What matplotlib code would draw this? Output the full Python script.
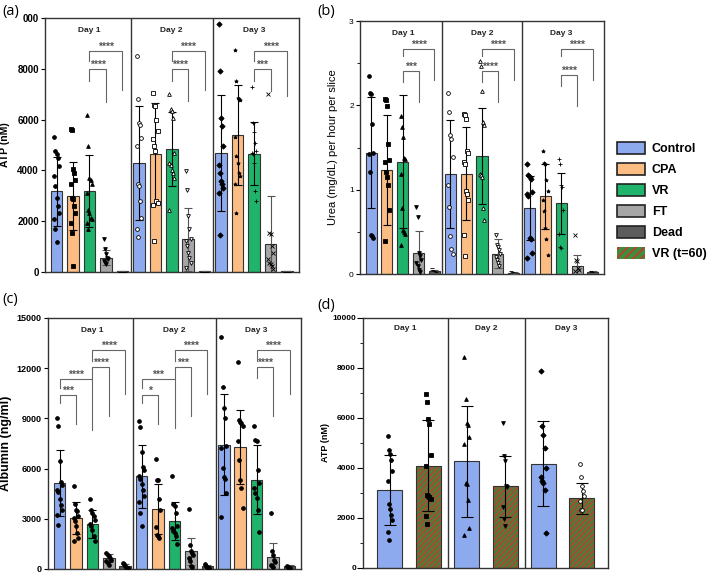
import matplotlib.pyplot as plt
from matplotlib.patches import Patch

plt.rcParams['font.family'] = ['Liberation Sans', 'DejaVu Sans']
plt.rcParams['hatch.linewidth'] = 1.2

days = ["Day 1", "Day 2", "Day 3"]
groups = ["Control", "CPA", "VR", "FT", "Dead", "VR (t=60)"]
colors = ["#8eaaee", "#fbbd84", "#1fb36b", "#a6a6a6", "#5c5c5c"]
vr60_face = "#3f8c3c"
vr60_hatch = "#c23b2a"

# ---- (a) ATP, nM ----
atp_mean = [[3180, 3000, 3180, 570, 30], [4300, 4660, 4850, 1280, 30], [4690, 5410, 4660, 1090, 30]]
atp_sd = [[1350, 1330, 1420, 290, 10], [2250, 1980, 1450, 1250, 10], [2270, 1970, 1230, 1920, 10]]
atp_pts_d1 = [[5300, 4760, 4630, 4500, 4170, 3780, 3380, 2920, 2600, 2330, 2070, 1680, 1180],
              [5640, 5610, 4040, 3910, 3640, 3450, 2920, 2860, 2600, 2330, 1940, 1550, 240],
              [6200, 4950, 3710, 3640, 3450, 3120, 2460, 2330, 2140, 2070, 1940, 1680],
              [1310, 890, 700, 560, 500, 430, 370, 300],
              [0, 0, 0, 0, 0, 0]]
atp_pts_d2 = [[8490, 6820, 5850, 5770, 5280, 4950, 3450, 3380, 2790, 2140, 1680, 1390],
              [7050, 6590, 6550, 6000, 5540, 5220, 4950, 4750, 2790, 2730, 2620, 1220],
              [7010, 6400, 6330, 6070, 4700, 4300, 4200, 4000, 3900, 3700, 2460],
              [3970, 3220, 2200, 1680, 1280, 1220, 1020, 760, 560, 370, 170],
              [0, 0, 0, 0, 0, 0]]
atp_pts_d3 = [[9760, 7930, 6070, 5740, 4950, 4230, 3900, 3570, 3450, 3300, 3120, 1440],
              [8730, 7510, 6860, 6820, 6790, 5320, 4560, 4300, 3900, 3770, 3450, 2330],
              [7290, 5870, 5500, 5080, 4760, 4690, 4630, 4300, 3190, 2790],
              [7000, 1550, 1480, 1020, 760, 500, 370, 300, 240, 100],
              [0, 0, 0, 0, 0, 0]]
# (i, j, label, bar y, left leg end, right leg end)
atp_sig = [[(2, 4, "****", 8690, 8300, 7180), (2, 3, "****", 8000, 7510, 6680)],
           [(2, 4, "****", 8690, 8300, 7180), (2, 3, "****", 8000, 7510, 6720)],
           [(2, 4, "****", 8690, 8300, 6920), (2, 3, "***", 8000, 7510, 7120)]]

# ---- (b) Urea ----
urea_mean = [[1.44, 1.23, 1.33, 0.25, 0.03], [1.19, 1.19, 1.40, 0.24, 0.01], [0.78, 0.92, 0.84, 0.09, 0.02]]
urea_sd = [[0.66, 0.65, 0.79, 0.26, 0.02], [0.64, 0.55, 0.57, 0.17, 0.01], [0.38, 0.39, 0.36, 0.13, 0.01]]
urea_pts_d1 = [[2.35, 2.15, 2.13, 1.78, 1.43, 1.42, 1.21, 0.46, 0.45, 0.43],
               [2.07, 2.06, 1.99, 1.54, 1.35, 1.33, 1.21, 1.15, 1.05, 0.76, 0.39],
               [1.87, 1.74, 1.63, 1.37, 1.36, 1.19, 0.78, 0.52, 0.50, 0.48, 0.34],
               [0.79, 0.68, 0.25, 0.21, 0.17, 0.13, 0.09, 0.05, 0.02],
               [0.07, 0.05, 0.04, 0.02]]
urea_pts_d2 = [[2.15, 1.92, 1.65, 1.60, 1.39, 1.05, 0.80, 0.45, 0.30, 0.24],
               [1.90, 1.88, 1.84, 1.46, 1.43, 1.33, 1.31, 0.98, 0.95, 0.88, 0.46, 0.21],
               [2.53, 2.47, 2.17, 1.80, 1.77, 1.19, 1.17, 1.15, 0.78, 0.64],
               [0.46, 0.34, 0.32, 0.28, 0.24, 0.20, 0.17, 0.13, 0.09],
               [0.04, 0.02]]
urea_pts_d3 = [[1.30, 1.17, 1.15, 1.13, 0.97, 0.95, 0.92, 0.43, 0.42, 0.25, 0.19],
               [1.46, 1.32, 1.31, 1.11, 0.99, 0.88, 0.75, 0.54, 0.41, 0.22],
               [1.36, 1.31, 1.05, 1.03, 0.76, 0.48, 0.32, 0.31],
               [0.46, 0.17, 0.16, 0.07, 0.05, 0.03],
               [0.03, 0.02]]
urea_sig = [[(2, 4, "****", 2.67, 2.58, 2.30), (2, 3, "***", 2.41, 2.28, 2.04)],
            [(2, 4, "****", 2.67, 2.58, 2.30), (2, 3, "****", 2.41, 2.28, 2.04)],
            [(2, 4, "****", 2.67, 2.58, 2.30), (2, 3, "****", 2.36, 2.23, 1.99)]]

# ---- (c) Albumin ----
alb_mean = [[5140, 3030, 2690, 660, 200], [5540, 3590, 2850, 1060, 160], [7430, 7290, 5340, 700, 160]]
alb_sd = [[1950, 950, 820, 250, 120], [1890, 1510, 1130, 800, 80], [3030, 2190, 2070, 860, 70]]
alb_pts_d1 = [[9020, 8530, 6470, 5200, 5000, 4700, 4600, 4200, 3800, 3500, 3200, 2650],
              [4980, 3900, 3550, 3450, 3150, 3050, 2850, 2550, 2150, 1850, 1650],
              [4200, 3500, 3350, 3190, 2950, 2690, 2550, 2350, 1950, 1650],
              [950, 850, 750, 650, 550, 450, 350, 250],
              [350, 300, 200, 120, 60]]
alb_pts_d2 = [[8830, 8490, 6970, 6080, 5900, 5540, 5380, 5100, 4750, 4350, 3980, 3350, 2550],
              [6570, 5340, 5300, 4180, 3550, 2510, 2050, 1950, 1850],
              [5580, 3890, 3750, 3350, 2550, 2450, 2250, 2150, 1950, 1500],
              [3590, 1450, 1050, 950, 850, 650, 450, 200, 120],
              [320, 200, 120, 60]]
alb_pts_d3 = [[13840, 10880, 9620, 9020, 7370, 7230, 6040, 5500, 5400, 4540, 3110],
              [12350, 8890, 8770, 8730, 8570, 7630, 6530, 5340, 4840, 3650],
              [8530, 7730, 7630, 5940, 5140, 4840, 4540, 4240, 3550, 2190],
              [3350, 1050, 850, 550, 400, 260, 160, 120],
              [200, 120, 60]]
alb_sig = [[(2, 4, "****", 13110, 12410, 10460), (2, 3, "****", 12070, 11420, 9120),
            (0, 2, "****", 11380, 10820, 8330), (0, 1, "***", 10380, 9920, 8690)],
           [(2, 4, "****", 13110, 12410, 10460), (2, 3, "***", 12070, 11420, 9120),
            (0, 2, "***", 11380, 10820, 8430), (0, 1, "*", 10380, 9920, 8690)],
           [(2, 4, "****", 13110, 12410, 10460), (2, 3, "****", 12070, 11420, 9120)]]

# ---- (d) ATP, Control vs VR (t=60) ----
atp60_mean = [[3130, 4090], [4270, 3270], [4170, 2800]]
atp60_sd = [[1400, 1820], [2230, 1220], [1700, 620]]
atp60_pts_d1 = [[5270, 4710, 4570, 4330, 3870, 3490, 2570, 2360, 2130, 1930, 1440, 1110],
                [6970, 6630, 5960, 5770, 4510, 4070, 2930, 2870, 2840, 2770, 2090, 1760]]
atp60_pts_d2 = [[8440, 6770, 5800, 5710, 5240, 4970, 3400, 3370, 2730, 1600, 1330],
                [5800, 4470, 4270, 3270, 3240, 2430, 1960, 1690]]
atp60_pts_d3 = [[7890, 5690, 5330, 4800, 4000, 3640, 3470, 3400, 3130, 1400],
                [4160, 3630, 3270, 3070, 2870, 2670, 2330, 2310]]

EDGE = "#333333"


def jitter(k, step):
    return ((k % 5) - 2) * step


def grouped_panel(ax, means, sds, pts, markers, hollow, sig, ymax, jstep):
    n = len(groups) - 1
    for d in range(3):
        for g in range(n):
            x = d * n + g
            ax.bar(x, means[d][g], width=0.7, color=colors[g], edgecolor=EDGE, lw=0.8, zorder=2)
            ec = "#555555" if g >= 3 else "black"
            ax.errorbar(x, means[d][g], yerr=sds[d][g], fmt="none", ecolor=ec,
                        elinewidth=0.8, capsize=2.8, capthick=0.8, zorder=4)
            vals = pts[d][g]
            xs = [x + jitter(k, jstep) for k in range(len(vals))]
            m = markers[d][g]
            fc = "white" if hollow[d] and m in "os^vD" else "black"
            ax.plot(xs, vals, ls="none", marker=m, ms=2.7, mfc=fc, mec="black",
                    mew=0.6, zorder=5)
        ax.text(d * n + 2, ymax * 0.95, days[d], ha="center", va="center",
                fontsize=6, fontweight="bold", color="#222222")
        for (i, j, lab, yb, yl, yr) in sig[d]:
            xi, xj = d * n + i, d * n + j
            ax.plot([xi, xi, xj, xj], [yl, yb, yb, yr], color="#666666", lw=0.8, zorder=3)
            ax.text((xi + xj) / 2, yb - ymax * 0.004, lab, ha="center", va="bottom",
                    fontsize=7.5, fontweight="bold", color="#555555")
    ax.set_xlim(-0.7, 14.7)
    ax.set_ylim(0, ymax)
    for xv in (4.5, 9.5):
        ax.axvline(xv, color=EDGE, lw=1.0, zorder=6)
    for s in ax.spines.values():
        s.set_color(EDGE)
        s.set_linewidth(1.0)
    ax.set_xticks([])
    ax.tick_params(axis="y", direction="out", length=3, width=0.8, pad=1.5)


fig = plt.figure(figsize=(7.09, 5.74), dpi=100)

mk_a = [["o", "s", "^", "v", "_"], ["o", "s", "^", "v", "_"], ["D", "*", "+", "x", "_"]]
mk_c = [["o"] * 5, ["o"] * 5, ["o"] * 5]

# (a)
ax_a = fig.add_axes([45 / 709, 1 - 272 / 574, 253.5 / 709, 254 / 574])
grouped_panel(ax_a, atp_mean, atp_sd, [atp_pts_d1, atp_pts_d2, atp_pts_d3],
              mk_a, [False, True, False], atp_sig, 10000, 0.07)
ax_a.set_yticks([0, 2000, 4000, 6000, 8000, 10000])
ax_a.set_yticklabels(["0", "2000", "4000", "6000", "8000", "000"], fontsize=7, fontweight="bold")
ax_a.set_ylabel("ATP (nM)", fontsize=7.5, fontweight="bold", labelpad=5)

# (b)
ax_b = fig.add_axes([360 / 709, 1 - 274 / 574, 244 / 709, 253 / 574])
grouped_panel(ax_b, urea_mean, urea_sd, [urea_pts_d1, urea_pts_d2, urea_pts_d3],
              mk_a, [False, True, False], urea_sig, 3, 0.07)
ax_b.set_yticks([0, 1, 2, 3])
ax_b.set_yticks([0.5, 1.5, 2.5], minor=True)
ax_b.tick_params(axis="y", which="minor", length=2, width=0.6)
ax_b.set_yticklabels(["0", "1", "2", "3"], fontsize=6)
ax_b.set_ylabel("Urea (mg/dL) per hour per slice", fontsize=8, labelpad=8)

# (c)
ax_c = fig.add_axes([48 / 709, 1 - 569 / 574, 253 / 709, 251 / 574])
grouped_panel(ax_c, alb_mean, alb_sd, [alb_pts_d1, alb_pts_d2, alb_pts_d3],
              mk_c, [False, False, False], alb_sig, 15000, 0.07)
ax_c.set_yticks([0, 3000, 6000, 9000, 12000, 15000])
ax_c.set_yticklabels(["0", "3000", "6000", "9000", "12000", "15000"], fontsize=6.5, fontweight="bold")
ax_c.set_ylabel("Albumin (ng/ml)", fontsize=9, fontweight="bold", labelpad=3)

# (d)
ax_d = fig.add_axes([363 / 709, 1 - 568 / 574, 245 / 709, 250 / 574])
mk_d = [["o", "s"], ["^", "v"], ["D", "o"]]
hollow_d = [[False, False], [False, False], [False, True]]
pts_d = [atp60_pts_d1, atp60_pts_d2, atp60_pts_d3]
d_edges = [-0.7, 1.51, 3.52, 5.68]
for d in range(3):
    for g in range(2):
        x = d * 2 + g
        if g == 0:
            ax_d.bar(x, atp60_mean[d][g], width=0.65, color=colors[0], edgecolor=EDGE, lw=0.8, zorder=2)
        else:
            ax_d.bar(x, atp60_mean[d][g], width=0.65, color="#4a7f3b", edgecolor="#b2452e",
                     hatch="//////", lw=0, zorder=2)
            ax_d.bar(x, atp60_mean[d][g], width=0.65, fill=False, edgecolor=EDGE, lw=0.8, zorder=2)
        ax_d.errorbar(x, atp60_mean[d][g], yerr=atp60_sd[d][g], fmt="none", ecolor="black",
                      elinewidth=0.8, capsize=4, capthick=0.8, zorder=4)
        vals = pts_d[d][g]
        xs = [x + jitter(k, 0.03) for k in range(len(vals))]
        fc = "white" if hollow_d[d][g] else "black"
        ax_d.plot(xs, vals, ls="none", marker=mk_d[d][g], ms=2.7, mfc=fc, mec="black",
                  mew=0.6, zorder=5)
    ax_d.text((d_edges[d] + d_edges[d + 1]) / 2, 10000 * 0.96, days[d],
              ha="center", va="center", fontsize=6, fontweight="bold", color="#222222")
ax_d.set_xlim(d_edges[0], d_edges[-1])
ax_d.set_ylim(0, 10000)
for xv in d_edges[1:3]:
    ax_d.axvline(xv, color=EDGE, lw=1.0, zorder=6)
for s in ax_d.spines.values():
    s.set_color(EDGE)
    s.set_linewidth(1.0)
ax_d.set_xticks([])
ax_d.set_yticks([0, 2000, 4000, 6000, 8000, 10000])
ax_d.set_yticks([1000, 3000, 5000, 7000, 9000], minor=True)
ax_d.tick_params(axis="y", direction="out", length=4, width=0.8, pad=1)
ax_d.tick_params(axis="y", which="minor", length=2, width=0.6)
ax_d.set_yticklabels(["0", "2000", "4000", "6000", "8000", "10000"], fontsize=6, fontweight="bold")
ax_d.set_ylabel("ATP (nM)", fontsize=6.5, fontweight="bold", labelpad=2)

# panel letters
for lab, (px, py) in zip(["(a)", "(b)", "(c)", "(d)"], [(2, 12), (317, 12), (2, 300), (317, 305)]):
    fig.text(px / 709, 1 - py / 574, lab, fontsize=10.5, family=["Open Sans", "DejaVu Sans"],
             ha="left", va="center")

# legend
handles = [Patch(facecolor=c, edgecolor="#222222", lw=1.2) for c in colors]
handles.append(Patch(facecolor=vr60_face, edgecolor=vr60_hatch, hatch="////", lw=0))
fig.legend(handles, groups, loc="upper left", bbox_to_anchor=(617 / 709, 1 - 142 / 574),
           frameon=False, borderpad=0, handlelength=2.2, handleheight=1.1,
           handletextpad=0.6, labelspacing=0.62, borderaxespad=0,
           prop={"size": 9, "weight": "bold"})

fig.savefig("out.png", dpi=100)
